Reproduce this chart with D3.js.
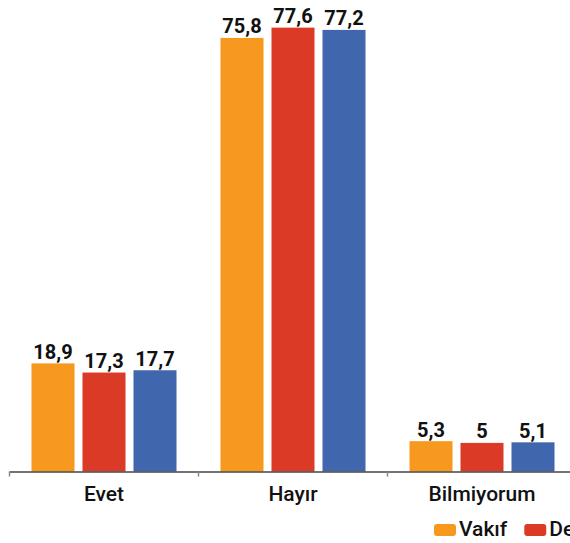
<!DOCTYPE html>
<html>
<head>
<meta charset="utf-8">
<script src="https://cdn.jsdelivr.net/npm/d3@7"></script>
<style>
  html, body { margin: 0; padding: 0; background: #fff; overflow: hidden; }
  svg { display: block; }
</style>
</head>
<body>
<svg id="chart" width="570" height="543"></svg>
<script>
const categories = ["Evet", "Hayır", "Bilmiyorum"];
const seriesNames = ["Vakıf", "Devlet", "Toplam"];
const seriesColors = ["#F7981F", "#DB3B26", "#4066AE"];
const vakif = [18.9, 75.8, 5.3];
const devlet = [17.3, 77.6, 5.0];
const toplam = [17.7, 77.2, 5.1];
const seriesValues = [vakif, devlet, toplam];
const yMax = 80;

const svg = d3.select("#chart");
const fmt = v => String(v).replace(".", ",");
const FONT = "Roboto, 'Liberation Sans', sans-serif";

const x0 = d3.scaleBand().domain(categories).range([9.5, 9.5 + 3 * 189]).paddingInner(0).paddingOuter(0);
const x1 = d3.scaleBand().domain(seriesNames).range([22, 167]).paddingInner(8 / 51).paddingOuter(0);
const y = d3.scaleLinear().domain([0, yMax]).range([471.5, 471.5 - yMax * 5.72]);

const groups = svg.selectAll("g.grp").data(categories).enter().append("g")
  .attr("class", "grp")
  .attr("transform", d => `translate(${x0(d)},0)`);

groups.each(function(cat, ci) {
  const g = d3.select(this);
  const rows = seriesNames.map((s, si) => ({ s, si, v: seriesValues[si][ci] }));
  g.selectAll("rect").data(rows).enter().append("rect")
    .attr("x", d => x1(d.s))
    .attr("width", x1.bandwidth())
    .attr("y", d => y(d.v))
    .attr("height", d => y(0) - y(d.v))
    .attr("fill", d => seriesColors[d.si]);
  g.selectAll("text.val").data(rows).enter().append("text")
    .attr("class", "val")
    .attr("x", d => x1(d.s) + x1.bandwidth() / 2)
    .attr("y", d => y(d.v) - 4.5)
    .attr("text-anchor", "middle")
    .attr("font-family", FONT)
    .attr("font-weight", 700)
    .attr("font-size", 20)
    .attr("fill", "#111")
    .text(d => fmt(d.v));
});

// x axis
const axis = d3.axisBottom(x0).tickSize(0).tickFormat(d => d);
const ax = svg.append("g").attr("transform", `translate(0,${y(0)})`);
ax.call(axis);
ax.select(".domain").remove();
ax.append("line").attr("x1", 9.5).attr("x2", 570).attr("y1", 0.5).attr("y2", 0.5)
  .attr("stroke", "#444").attr("stroke-width", 1.5);
ax.selectAll(".tickmark").data(categories).enter().append("line")
  .attr("class", "tickmark")
  .attr("x1", d => x0(d)).attr("x2", d => x0(d))
  .attr("y1", 0).attr("y2", 5)
  .attr("stroke", "#888").attr("stroke-width", 1.5);
ax.selectAll(".tick text")
  .attr("dy", 0)
  .attr("y", 29)
  .attr("font-family", FONT)
  .attr("font-weight", 500)
  .attr("font-size", 21)
  .attr("fill", "#111");

// legend
const legend = svg.append("g").attr("transform", "translate(434,524)");
let lx = 0;
seriesNames.forEach((s, i) => {
  const item = legend.append("g").attr("transform", `translate(${lx},0)`);
  item.append("rect").attr("width", 22).attr("height", 12).attr("rx", 3).attr("fill", seriesColors[i]);
  const t = item.append("text").attr("x", 25).attr("y", 12)
    .attr("font-family", FONT)
    .attr("font-weight", 500)
    .attr("font-size", 21)
    .attr("fill", "#111")
    .text(s);
  lx += 25 + t.node().getComputedTextLength() + 17;
});
</script>
</body>
</html>
